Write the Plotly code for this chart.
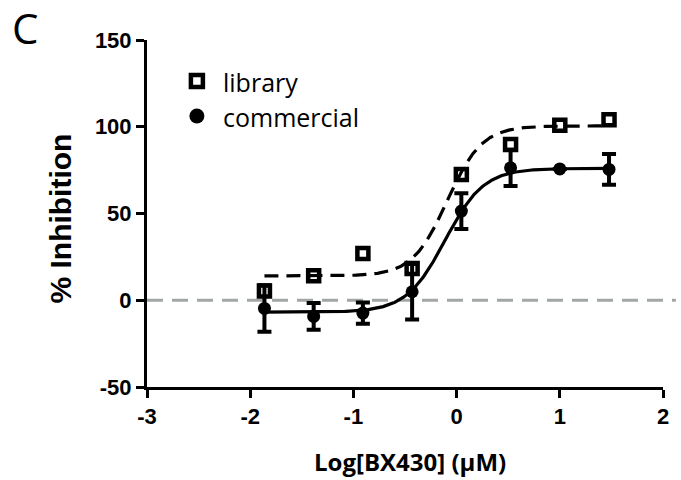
import numpy as np
import plotly.graph_objects as go

# ---- data ----
log_conc = [-1.862, -1.385, -0.908, -0.431, 0.046, 0.523, 1.0, 1.477]
library = [5.4, 14.1, 27.0, 18.3, 72.5, 89.7, 100.8, 104.0]
commercial = [-4.7, -9.3, -7.4, 4.9, 51.4, 76.3, 75.7, 75.4]
commercial_sd = [13.4, 7.7, 6.1, 16.0, 10.3, 10.5, 0.0, 8.9]

# four-parameter logistic fit parameters (bottom, top, logIC50, hill)
fit_library = (14.0, 100.5, -0.091, 2.58)
fit_commercial = (-6.9, 76.0, -0.112, 2.32)

x_ticks = [-3, -2, -1, 0, 1, 2]
x_ticktext = ["-3", "-2", "-1", "0", "1", "2"]
y_ticks = [-50, 0, 50, 100, 150]
y_ticktext = ["-50", "0", "50", "100", "150"]
series_names = ["library", "commercial"]


def four_pl(x, p):
    b, t, ic, h = p
    return b + (t - b) / (1 + 10 ** ((ic - x) * h))


xs = np.linspace(log_conc[0], log_conc[-1], 300)

fig = go.Figure()

# zero reference line
fig.add_shape(type="line", xref="paper", yref="y", x0=0, x1=1.025, y0=0, y1=0,
              line=dict(color="#a3a6a6", width=3, dash="16px,9px"), layer="below")

fig.add_trace(go.Scatter(x=xs, y=four_pl(xs, fit_library), mode="lines",
                         line=dict(color="black", width=3.2, dash="14px,8px"),
                         showlegend=False, hoverinfo="skip"))
fig.add_trace(go.Scatter(x=xs, y=four_pl(xs, fit_commercial), mode="lines",
                         line=dict(color="black", width=3.2),
                         showlegend=False, hoverinfo="skip"))

sq_marker = dict(symbol="square-open", size=11, color="black",
                 line=dict(width=4.5, color="black"))
ci_marker = dict(symbol="circle", size=13, color="black")

fig.add_trace(go.Scatter(x=log_conc, y=library, mode="markers", name=series_names[0],
                         marker=sq_marker, showlegend=False))
fig.add_trace(go.Scatter(x=log_conc, y=commercial, mode="markers", name=series_names[1],
                         marker=ci_marker, showlegend=False,
                         error_y=dict(type="data", array=commercial_sd, visible=True,
                                      color="black", thickness=4, width=7)))

# manual legend on an overlay axis spanning the plot area (0..1)
leg_x = 0.0967
leg_y = [0.882, 0.781]
fig.add_trace(go.Scatter(x=[leg_x], y=[leg_y[0]], xaxis="x2", yaxis="y2", mode="markers",
                         marker=dict(symbol="square-open", size=12, color="black",
                                     line=dict(width=4.5, color="black")),
                         showlegend=False, hoverinfo="skip"))
fig.add_trace(go.Scatter(x=[leg_x], y=[leg_y[1]], xaxis="x2", yaxis="y2", mode="markers",
                         marker=dict(symbol="circle", size=15, color="black"),
                         showlegend=False, hoverinfo="skip"))

tickfont = dict(family="Liberation Sans, Arial", size=22, color="black", weight="bold")

fig.update_xaxes(range=[-3, 2], tickvals=x_ticks, ticktext=x_ticktext, showline=True,
                 linewidth=3, linecolor="black", ticks="outside", ticklen=8, tickwidth=3,
                 tickcolor="black", showgrid=False, zeroline=False,
                 tickfont=tickfont)
fig.update_yaxes(range=[-50, 150], tickvals=y_ticks, ticktext=y_ticktext, showline=True,
                 linewidth=3, linecolor="black", ticks="outside", ticklen=8, tickwidth=3,
                 tickcolor="black", showgrid=False, zeroline=False,
                 tickfont=tickfont)

legend_font = dict(family="Open Sans", size=25, color="black")

fig.update_layout(
    width=681, height=480,
    margin=dict(l=147, r=12, t=40, b=93),
    paper_bgcolor="white", plot_bgcolor="white",
    showlegend=False,
    xaxis2=dict(overlaying="x", range=[0, 1], visible=False, fixedrange=True),
    yaxis2=dict(overlaying="y", range=[0, 1], visible=False, fixedrange=True),
    annotations=[
        dict(text=series_names[0], xref="x2", yref="y2", x=0.1437, y=leg_y[0] - 0.004,
             xanchor="left", yanchor="middle", showarrow=False, font=legend_font),
        dict(text=series_names[1], xref="x2", yref="y2", x=0.1437, y=leg_y[1] - 0.004,
             xanchor="left", yanchor="middle", showarrow=False, font=legend_font),
        dict(text="C", xref="paper", yref="paper", x=-0.265, y=1.035,
             xanchor="left", yanchor="middle", showarrow=False,
             font=dict(family="Open Sans", size=42, color="black")),
        dict(text="% Inhibition", xref="paper", yref="paper", x=-0.167, y=0.485,
             xanchor="center", yanchor="middle", textangle=-90, showarrow=False,
             font=dict(family="Liberation Sans, Arial", size=30, color="black",
                       weight="bold")),
        dict(text="Log[BX430] (µM)", xref="paper", yref="paper", x=0.51, y=-0.215,
             xanchor="center", yanchor="middle", showarrow=False,
             font=dict(family="Open Sans", size=24, color="black",
                       weight="bold")),
    ],
)

fig.write_html("out.html")
